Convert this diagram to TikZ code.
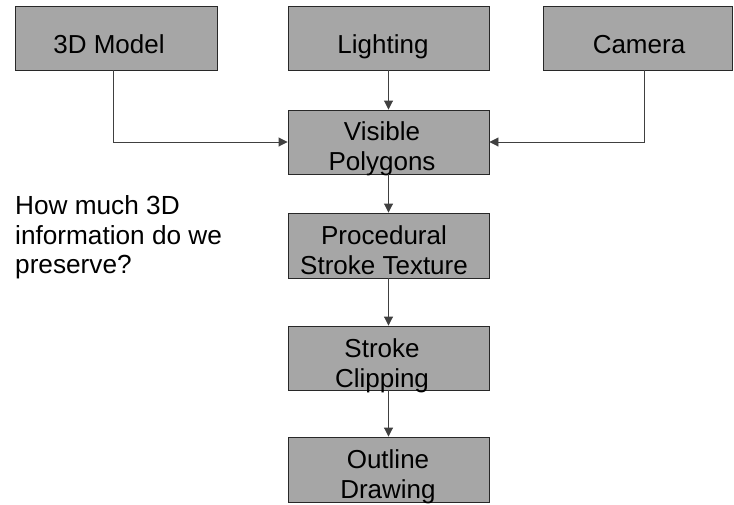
\documentclass[tikz,border=0pt]{standalone}
\usepackage{fontspec}
\setmainfont{Liberation Sans}
\usetikzlibrary{arrows.meta}
\definecolor{boxfill}{RGB}{166,166,166}
\definecolor{boxline}{RGB}{40,40,40}
\definecolor{wire}{RGB}{64,64,64}
\tikzset{
  stage/.style={draw=boxline, line width=0.9pt, fill=boxfill, rectangle,
    inner sep=0pt, minimum width=201pt, minimum height=64pt},
  lbl/.style={inner sep=0pt, align=center, text=black,
    font=\fontsize{26}{30.5}\selectfont},
  note/.style={inner sep=0pt, align=left, text=black,
    font=\fontsize{26.2}{29.5}\selectfont},
  flow/.style={draw=wire, line width=0.9pt,
    -{Triangle[length=9pt,width=9pt]}},
}
\begin{document}
\begin{tikzpicture}[x=1pt, y=-1pt]
\useasboundingbox (0,0) rectangle (734,504);

% input stages
\node[stage, minimum width=202pt] (model) at (116,38) {};
\node[stage] (light) at (388.5,38) {};
\node[stage, minimum width=189pt] (cam) at (638,38) {};

% pipeline stages
\node[stage] (vis) at (388.5,142) {};
\node[stage, minimum height=65pt] (proc) at (388.5,245.5) {};
\node[stage] (clip) at (388.5,358) {};
\node[stage, minimum height=65pt] (out) at (388.5,469.5) {};

% stage captions
\node[lbl, anchor=base] (tmodel) at (109,53) {3D Model};
\node[lbl, anchor=base] (tlight) at (383,53) {Lighting};
\node[lbl, anchor=base] (tcam) at (639,53) {Camera};
\node[lbl, anchor=north] (tvis) at (382,121) {Visible\\Polygons};
\node[lbl, anchor=north] (tproc) at (384,225) {Procedural\\Stroke Texture};
\node[lbl, anchor=north] (tclip) at (382,338) {Stroke\\Clipping};
\node[lbl, anchor=north] (tout) at (388,449) {Outline\\Drawing};

% side question
\node[note, anchor=north west] (question) at (15,195.5)
  {How much 3D\\information do we\\preserve?};

% connectors
\coordinate (mbend) at (113,142);
\coordinate (cbend) at (644,142);
\draw[flow] (mbend |- model.south) -- (mbend) -- (vis.west);
\draw[flow] (cbend |- cam.south) -- (cbend) -- (vis.east);
\draw[flow] (light.south) -- (vis.north);
\draw[flow] (vis.south) -- (proc.north);
\draw[flow] (proc.south) -- (clip.north);
\draw[flow] (clip.south) -- (out.north);
\end{tikzpicture}
\end{document}
